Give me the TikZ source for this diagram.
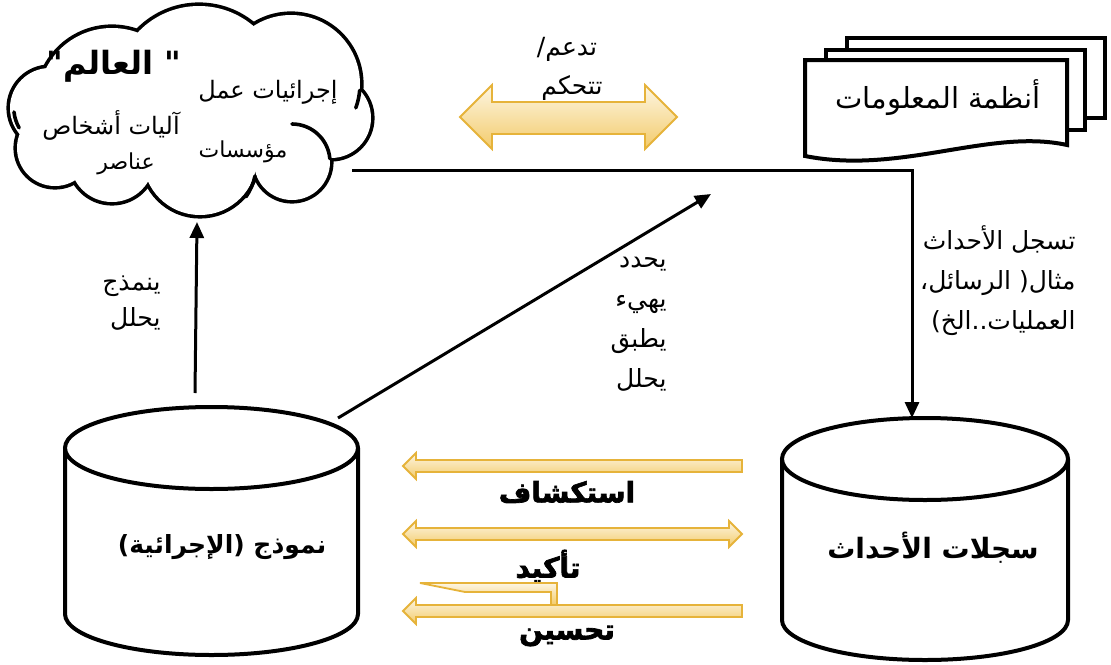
\documentclass[tikz,border=0pt]{standalone}
\usepackage{fontspec}
\usetikzlibrary{arrows.meta}
\newfontfamily\arabicfont[Script=Arabic]{DejaVu Sans}
\newfontfamily\arabicheavy[Script=Arabic,FakeBold=2.5]{DejaVu Sans Bold}
\TeXXeTstate=1
\newcommand{\ar}[1]{{\arabicfont\beginR #1\endR}}
\newcommand{\arb}[1]{{\arabicfont\bfseries\beginR #1\endR}}
\newcommand{\arh}[1]{{\arabicheavy\beginR #1\endR}}
\newcommand{\cloudpuffs}[1]{%
  \path[#1] (112,102) circle[radius=74];
  \path[#1] (199,90) circle[radius=84];
  \path[#1] (291,84) circle[radius=69];
  \path[#1] (331,118) circle[radius=40];
  \path[#1] (292,162) circle[radius=38];
  \path[#1] (200,158) circle[radius=57];
  \path[#1] (112,160) circle[radius=42];
  \path[#1] (55,148) circle[radius=38];
  \path[#1] (50,108) circle[radius=40];
}
\definecolor{goldline}{HTML}{E6B33A}
\definecolor{goldtop}{HTML}{FDF6E3}
\definecolor{goldbot}{HTML}{F3CB6B}
\begin{document}
\begin{tikzpicture}[x=1pt,y=-1pt,
  line width=3pt,
  arr/.style={line width=3pt,-{Triangle[length=16pt,width=14pt]}},
  lbl/.style={inner sep=0pt, font=\fontsize{25}{40}\selectfont, align=right},
  clbl/.style={inner sep=0pt, font=\fontsize{24}{28}\selectfont},
  big/.style={inner sep=0pt, font=\fontsize{28}{32}\selectfont},
  goldarrow/.style={draw=goldline, line width=1.8pt, top color=goldtop, bottom color=goldbot},
  cyl/.style={draw, line width=4pt, fill=white},
  docbox/.style={draw, line width=4pt, fill=white},
  cloudline/.style={draw, line width=3.6pt, line cap=round},
]
\useasboundingbox (0,0) rectangle (1111,664);

% cloud: union of puffs
\cloudpuffs{draw, line width=7.2pt}
\cloudpuffs{fill=white}
\coordinate (world) at (191,110);
% inner arcs of the cloud
\path[cloudline] (292,124) arc[start angle=-90, end angle=-5, radius=38];
\path[cloudline] (359.7,90.3) arc[start angle=5, end angle=20, radius=69];
\path[cloudline] (14,112) arc[start angle=174, end angle=150, radius=40];
\path[cloudline] (255,176) arc[start angle=12, end angle=35, radius=57];
\node[inner sep=0pt, font=\fontsize{32}{36}\selectfont] (worldt) at (114,66) {\arb{" العالم"}};
\node[clbl] (c1) at (268,92) {\ar{إجرائيات عمل}};
\node[clbl] (c2) at (111,125) {\ar{آليات أشخاص}};
\node[clbl, font=\fontsize{22}{26}\selectfont] (c3) at (243,152) {\ar{مؤسسات}};
\node[clbl, font=\fontsize{22}{26}\selectfont] (c4) at (126,164) {\ar{عناصر}};

% top double arrow
\path[goldarrow] (460,117) -- (492,85) -- (492,102) -- (645,102) -- (645,85) -- (677,117)
  -- (645,149) -- (645,134) -- (492,134) -- (492,149) -- cycle;
\node[clbl, font=\fontsize{25}{28}\selectfont] (sup) at (567,49) {\ar{تدعم/}};
\node[clbl, font=\fontsize{25}{28}\selectfont] (ctl) at (572,88) {\ar{تتحكم}};

% documents
\path[docbox] (847,38) rectangle (1105,118);
\path[docbox] (826,50) rectangle (1085,130);
\path[docbox] (805,60) -- (1067,60) -- (1067,145) .. controls (990,128) and (900,175) .. (805,156) -- cycle;
\node[font=\fontsize{29}{32}\selectfont, inner sep=0pt] (is) at (938,98) {\ar{أنظمة المعلومات}};

% cylinders
\draw[cyl] (65,448) -- (65,614) arc[start angle=180, end angle=0, x radius=146.5, y radius=41] -- (358,448);
\draw[cyl] (211.5,448) ellipse [x radius=146.5, y radius=41];
\node[inner sep=0pt, font=\fontsize{25}{30}\selectfont] (model) at (222,547) {\arb{نموذج (الإجرائية)}};

\draw[cyl] (782,459) -- (782,620) arc[start angle=180, end angle=0, x radius=143, y radius=40] -- (1068,459);
\draw[cyl] (925,459) ellipse [x radius=143, y radius=41];
\node[inner sep=0pt, font=\fontsize{28}{32}\selectfont] (logs) at (933,548) {\arb{سجلات الأحداث}};

% connectors
\coordinate (cloudR) at (352,170);
\coordinate (corner) at (912,170);
\coordinate (logsTop) at (912,418);
\draw[arr] (cloudR) -- (corner) -- (logsTop);
\coordinate (modelTop) at (338,418);
\coordinate (midEnd) at (711,194);
\draw[arr] (modelTop) -- (midEnd);
\coordinate (modelUp) at (195,393);
\coordinate (cloudB) at (197,222);
\draw[arr] (modelUp) -- (cloudB);

% labels
\node[lbl, anchor=north east] (rt) at (1077,224) {\ar{تسجل الأحداث}\\ \ar{مثال( الرسائل،}\\ \ar{العمليات..الخ)}};
\node[lbl, anchor=north east, font=\fontsize{25}{40}\selectfont] (mt) at (668,256) {\ar{يحدد}\\ \ar{يهيء}\\ \ar{يطبق}\\ \ar{يحلل}};
\node[lbl, anchor=north east, font=\fontsize{25}{36}\selectfont] (lt) at (162,274) {\ar{ينمذج}\\ \ar{يحلل}};

% bottom arrows
\path[goldarrow] (403,466) -- (416,453) -- (416,460) -- (742,460) -- (742,472) -- (416,472) -- (416,479) -- cycle;
\node[big] (exp) at (567,492) {\arh{استكشاف}};
\path[goldarrow] (403,534) -- (416,521) -- (416,528) -- (729,528) -- (729,521) -- (742,534)
  -- (729,547) -- (729,540) -- (416,540) -- (416,547) -- cycle;
\node[big] (conf) at (548,566) {\arh{تأكيد}};
\path[goldarrow] (420,583) -- (557,583) -- (557,605) -- (551,605) -- (551,592) -- (465,592) -- cycle;
\path[goldarrow] (403,611) -- (416,598) -- (416,605) -- (742,605) -- (742,617) -- (416,617) -- (416,624) -- cycle;
\node[big] (imp) at (567,636) {\arh{تحسين}};
\end{tikzpicture}
\end{document}
